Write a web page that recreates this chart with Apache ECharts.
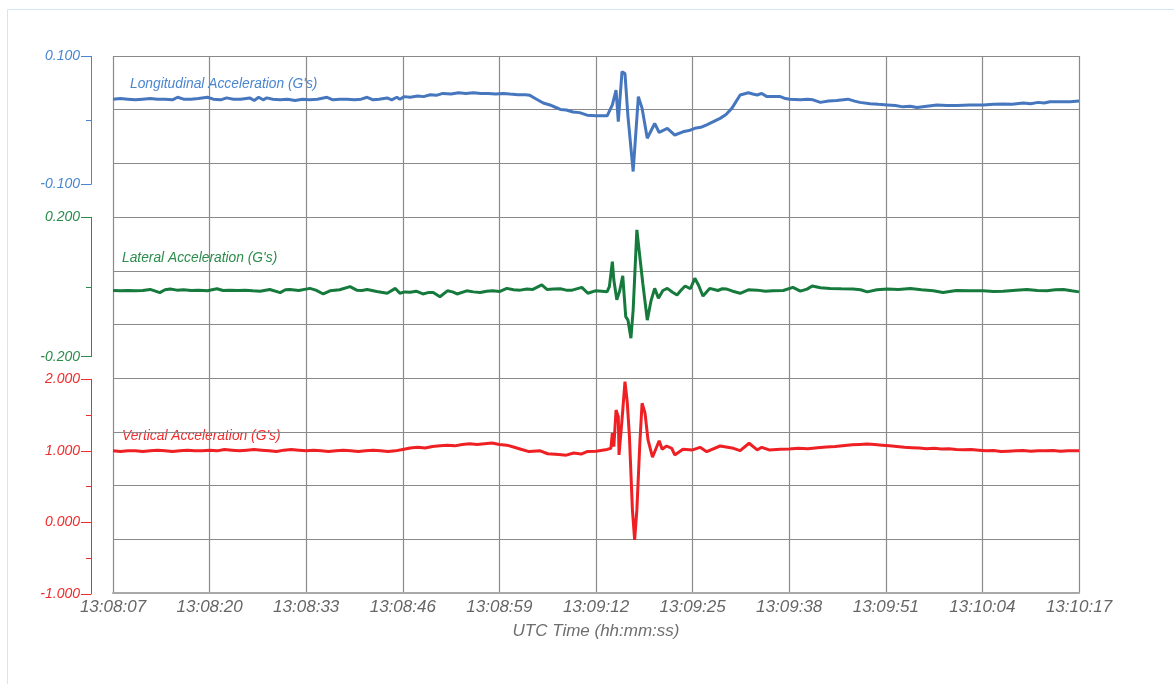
<!DOCTYPE html>
<html>
<head>
<meta charset="utf-8">
<script src="https://cdn.jsdelivr.net/npm/echarts@6/dist/echarts.min.js"></script>
<style>
html,body{margin:0;padding:0;background:#fff;}
#chart{width:1174px;height:684px;}
</style>
</head>
<body>
<div id="chart"></div>
<script>
// Time ticks (seconds after 13:08:07, every 13 s)
var timeLabels = ['13:08:07','13:08:20','13:08:33','13:08:46','13:08:59','13:09:12','13:09:25','13:09:38','13:09:51','13:10:04','13:10:17'];
var seriesNames = ["Longitudinal Acceleration (G's)", "Lateral Acceleration (G's)", "Vertical Acceleration (G's)"];

// [seconds after 13:08:07, G]
var longitudinal = [[0,0.033],[1,0.034],[2,0.033],[3,0.032],[4,0.033],[5,0.034],[6,0.033],[7,0.033],[8,0.032],[8.7,0.036],[9.5,0.033],[10.5,0.033],[11.5,0.034],[12.7,0.036],[13.5,0.033],[14.5,0.032],[15.3,0.035],[16.2,0.033],[17.2,0.033],[18.4,0.035],[19.0,0.031],[19.6,0.036],[20.2,0.032],[20.7,0.035],[21.5,0.033],[22.5,0.032],[23.5,0.033],[24.5,0.031],[25.5,0.033],[26.5,0.032],[27.5,0.033],[28.8,0.036],[29.6,0.032],[30.5,0.033],[31.5,0.033],[32.5,0.032],[33.4,0.033],[34.2,0.036],[35,0.032],[35.8,0.033],[36.9,0.035],[37.5,0.032],[38.2,0.036],[38.6,0.033],[39.2,0.037],[40,0.036],[41,0.038],[41.8,0.037],[42.7,0.040],[43.5,0.039],[44.4,0.042],[45.5,0.041],[46.5,0.043],[47.5,0.042],[48.5,0.043],[49.5,0.042],[50.5,0.042],[51.5,0.041],[52.5,0.042],[53.4,0.041],[54.5,0.040],[55.5,0.040],[56.1,0.039],[57.0,0.033],[57.9,0.027],[58.8,0.024],[59.6,0.020],[60.2,0.017],[61.0,0.016],[61.9,0.013],[62.8,0.012],[63.8,0.008],[65,0.007],[66.5,0.007],[67.2,0.024],[67.7,0.047],[68.0,-0.002],[68.5,0.076],[68.9,0.073],[69.3,0.006],[70.0,-0.080],[70.7,0.037],[71.2,0.019],[71.9,-0.028],[72.9,-0.005],[73.5,-0.019],[74.6,-0.0125],[75.6,-0.023],[76.7,-0.018],[77.5,-0.016],[78.3,-0.0125],[79.1,-0.011],[79.9,-0.007],[80.8,-0.002],[81.7,0.003],[82.5,0.009],[83.3,0.019],[84.4,0.0395],[85.5,0.043],[86.1,0.041],[86.7,0.0395],[87.3,0.042],[88.0,0.037],[89.0,0.037],[89.8,0.037],[90.5,0.034],[91.1,0.033],[92.5,0.032],[93.5,0.033],[94.2,0.032],[95.2,0.028],[96.3,0.030],[97.4,0.031],[98.9,0.033],[99.8,0.030],[100.5,0.028],[101.9,0.026],[103,0.025],[104.2,0.024],[105.3,0.023],[106.3,0.021],[107.3,0.022],[108.2,0.020],[109.5,0.022],[110.9,0.024],[112.2,0.023],[113.6,0.023],[115.3,0.024],[117.1,0.024],[118.5,0.025],[119.8,0.0255],[121,0.025],[122.5,0.027],[123.5,0.026],[124.5,0.028],[125.3,0.027],[126.1,0.029],[127.5,0.029],[128.8,0.029],[130,0.030]];

var lateral = [[0,-0.010],[1,-0.011],[2,-0.010],[3,-0.011],[4,-0.010],[5.0,-0.007],[6.3,-0.016],[7.0,-0.008],[7.7,-0.006],[8.6,-0.009],[9.5,-0.008],[10.5,-0.010],[11.5,-0.009],[12.7,-0.011],[14.0,-0.005],[14.8,-0.010],[15.7,-0.009],[16.8,-0.010],[17.8,-0.009],[18.8,-0.011],[19.8,-0.012],[21.1,-0.007],[22.5,-0.016],[23.2,-0.008],[23.8,-0.007],[25.0,-0.010],[26.5,-0.004],[27.3,-0.009],[28.3,-0.020],[29.2,-0.011],[30.5,-0.008],[31.9,0.001],[32.8,-0.009],[33.5,-0.010],[34.2,-0.007],[35.5,-0.013],[36.9,-0.018],[38.0,-0.004],[38.6,-0.018],[39.3,-0.014],[40.0,-0.015],[40.8,-0.012],[41.7,-0.020],[42.4,-0.016],[43.1,-0.016],[44.0,-0.028],[45.0,-0.011],[45.7,-0.014],[46.3,-0.020],[47.6,-0.011],[48.5,-0.014],[49.4,-0.016],[50.3,-0.012],[51.1,-0.011],[52.0,-0.013],[53.0,-0.004],[53.9,-0.008],[54.8,-0.009],[55.7,-0.006],[56.5,-0.007],[57.7,0.006],[58.4,-0.007],[59.3,-0.006],[60.2,-0.005],[61.0,-0.009],[61.8,-0.009],[63.1,-0.001],[63.9,-0.018],[64.9,-0.011],[65.8,-0.012],[66.5,-0.0135],[66.8,0.001],[67.2,0.073],[67.4,0.020],[67.8,-0.037],[68.2,-0.010],[68.6,0.032],[69.0,-0.085],[69.3,-0.095],[69.7,-0.147],[70.0,-0.066],[70.5,0.164],[70.8,0.106],[71.3,0.010],[71.9,-0.095],[72.4,-0.040],[72.9,-0.004],[73.4,-0.032],[74.0,-0.010],[74.6,-0.004],[75.3,-0.015],[75.9,-0.023],[76.5,-0.008],[77.0,0.003],[77.7,-0.005],[78.3,0.025],[78.8,0.005],[79.4,-0.026],[80.3,-0.004],[81.4,-0.010],[82.0,-0.005],[82.6,-0.006],[83.4,-0.012],[84.4,-0.018],[85.5,-0.008],[86.7,-0.009],[87.8,-0.012],[88.8,-0.011],[90.2,-0.010],[91.5,-0.001],[92.5,-0.012],[93.4,-0.006],[94.1,0.003],[95.2,-0.002],[96.5,-0.004],[98.0,-0.005],[99.6,-0.006],[100.6,-0.008],[101.5,-0.014],[102.8,-0.008],[104.2,-0.006],[105.7,-0.007],[107.3,-0.004],[108.8,-0.008],[110.4,-0.011],[111.7,-0.016],[113.5,-0.010],[115.3,-0.011],[117.1,-0.011],[118.5,-0.013],[119.8,-0.012],[121.5,-0.009],[123.0,-0.007],[124.4,-0.010],[125.7,-0.011],[126.8,-0.008],[127.9,-0.007],[129.0,-0.011],[130,-0.014]];

var vertical = [[0,1.00],[1,0.99],[2,1.00],[3,1.00],[4,0.99],[5,1.00],[6,1.01],[7,1.00],[8,0.99],[9,1.00],[10,1.01],[11,1.00],[12,1.00],[13,1.01],[14,1.00],[15,1.02],[16,1.01],[17,1.00],[18,1.01],[19,1.02],[20,1.01],[21,1.00],[22,0.99],[23,1.01],[24,1.02],[25,1.01],[26,1.00],[27,1.01],[28,1.00],[29,0.99],[30,1.00],[31,1.01],[32,1.00],[33,0.99],[34,1.00],[35,1.01],[36,1.00],[37,0.99],[38,1.00],[39,1.02],[40,1.04],[41,1.05],[42,1.04],[43,1.06],[44,1.07],[45,1.08],[46,1.07],[47,1.09],[48,1.10],[49,1.09],[50,1.10],[51,1.11],[52,1.09],[53,1.08],[54,1.05],[55,1.02],[56,0.99],[57.5,1.00],[58.5,0.96],[60,0.95],[61,0.94],[62,0.97],[63,0.955],[63.8,0.99],[65,0.995],[66.5,1.02],[67.0,1.036],[67.2,1.246],[67.4,1.059],[67.7,1.571],[68.0,1.478],[68.1,0.943],[68.5,1.432],[68.9,1.966],[69.2,1.687],[69.5,1.198],[69.9,0.175],[70.2,-0.244],[70.5,0.175],[70.9,1.106],[71.2,1.665],[71.6,1.525],[72.0,1.152],[72.6,0.911],[73.5,1.142],[73.9,1.022],[74.5,1.068],[75.2,1.036],[75.6,0.943],[76.7,1.022],[78.0,1.013],[79.0,1.05],[79.9,0.989],[81.7,1.068],[83.5,1.036],[84.4,1.003],[85.6,1.106],[86.7,1.013],[87.3,1.050],[88.3,1.013],[89.8,1.022],[91,1.025],[92.2,1.035],[93.5,1.03],[94.8,1.045],[96,1.055],[97.2,1.06],[98.5,1.075],[99.5,1.085],[100.5,1.09],[101.5,1.095],[102.5,1.09],[103.5,1.08],[104.5,1.07],[105.5,1.06],[106.5,1.05],[107.5,1.045],[108.5,1.04],[109.5,1.03],[110.5,1.035],[111.5,1.025],[112.5,1.03],[113.5,1.02],[114.5,1.015],[115.5,1.02],[116.5,1.01],[117.5,1.0],[118.5,1.005],[119.5,0.99],[120.5,0.995],[121.5,1.0],[122.5,1.005],[123.5,0.995],[124.5,1.0],[125.5,1.0],[126.5,1.005],[127.5,0.995],[128.5,1.0],[129.5,1.0],[130,1.0]];

var FONT = '"Liberation Sans", Arial, sans-serif';
var colors = {
  blueLine:'#4677be', blueText:'#4a86cf',
  greenLine:'#167a3c', greenText:'#2b8c4c',
  redLine:'#ee2024', redText:'#f02c2c'
};

var chart = echarts.init(document.getElementById('chart'), null, {renderer:'canvas'});

function hiddenX(i){
  return {type:'value', gridIndex:i, min:0, max:130, show:false};
}
function panelY(i, min, max, interval, color){
  return {
    type:'value', gridIndex:i, min:min, max:max, interval:interval,
    position:'left', offset:22,
    axisLine:{show:true, onZero:false, lineStyle:{color:color, width:1}},
    axisTick:{show:true, length:10, lineStyle:{color:color, width:1}},
    minorTick:{show:true, splitNumber:2, length:5, lineStyle:{color:color, width:1}},
    axisLabel:{show:true, color:color, fontFamily:FONT, fontStyle:'italic', fontSize:14, margin:11,
      formatter:function(v){return v.toFixed(3);}},
    splitLine:{show:false}, minorSplitLine:{show:false}
  };
}

var option = {
  animation:false,
  backgroundColor:'#ffffff',
  grid:[
    {left:113, top:56, width:966, height:537},
    {left:113, top:56.3, width:966, height:128},
    {left:113, top:217.3, width:966, height:139.4},
    {left:113, top:379.3, width:966, height:214.7}
  ],
  xAxis:[
    {type:'value', gridIndex:0, min:0, max:130, interval:13,
     name:'UTC Time (hh:mm:ss)', nameLocation:'middle', nameGap:30,
     nameTextStyle:{color:'#6e6e6e', fontFamily:FONT, fontStyle:'italic', fontSize:17},
     axisLine:{show:true, onZero:false, lineStyle:{color:'#a9a9a9', width:2}},
     axisTick:{show:false},
     axisLabel:{color:'#666666', fontFamily:FONT, fontStyle:'italic', fontSize:17, margin:6,
       formatter:function(v){return timeLabels[Math.round(v/13)];}},
     splitLine:{show:true, lineStyle:{color:'#8a8a8a', width:1.2}}
    },
    hiddenX(1), hiddenX(2), hiddenX(3)
  ],
  yAxis:[
    {type:'value', gridIndex:0, min:0, max:10, interval:1,
     axisLine:{show:false}, axisTick:{show:false}, axisLabel:{show:false},
     splitLine:{show:true, lineStyle:{color:'#8a8a8a', width:1.2}}},
    panelY(1, -0.1, 0.1, 0.2, colors.blueText),
    panelY(2, -0.2, 0.2, 0.4, colors.greenText),
    panelY(3, -1, 2, 1, colors.redText)
  ],
  series:[
    {name:seriesNames[0], type:'line', xAxisIndex:1, yAxisIndex:1, data:longitudinal,
     showSymbol:false, symbol:'none', lineStyle:{color:colors.blueLine, width:3}},
    {name:seriesNames[1], type:'line', xAxisIndex:2, yAxisIndex:2, data:lateral,
     showSymbol:false, symbol:'none', lineStyle:{color:colors.greenLine, width:3}},
    {name:seriesNames[2], type:'line', xAxisIndex:3, yAxisIndex:3, data:vertical,
     showSymbol:false, symbol:'none', lineStyle:{color:colors.redLine, width:3}}
  ],
  graphic:[
    {type:'rect', silent:true, z:-1, shape:{x:7.5, y:9.5, width:1200, height:700},
     style:{fill:'none', stroke:'#d3e6f3', lineWidth:1}},
    {type:'text', left:130, top:77, style:{text:seriesNames[0], fill:colors.blueText,
      font:'italic 13.8px ' + FONT}},
    {type:'text', left:122, top:251, style:{text:seriesNames[1], fill:colors.greenText,
      font:'italic 13.8px ' + FONT}},
    {type:'text', left:122, top:429, style:{text:seriesNames[2], fill:colors.redText,
      font:'italic 13.8px ' + FONT}}
  ]
};
chart.setOption(option);
</script>
</body>
</html>
